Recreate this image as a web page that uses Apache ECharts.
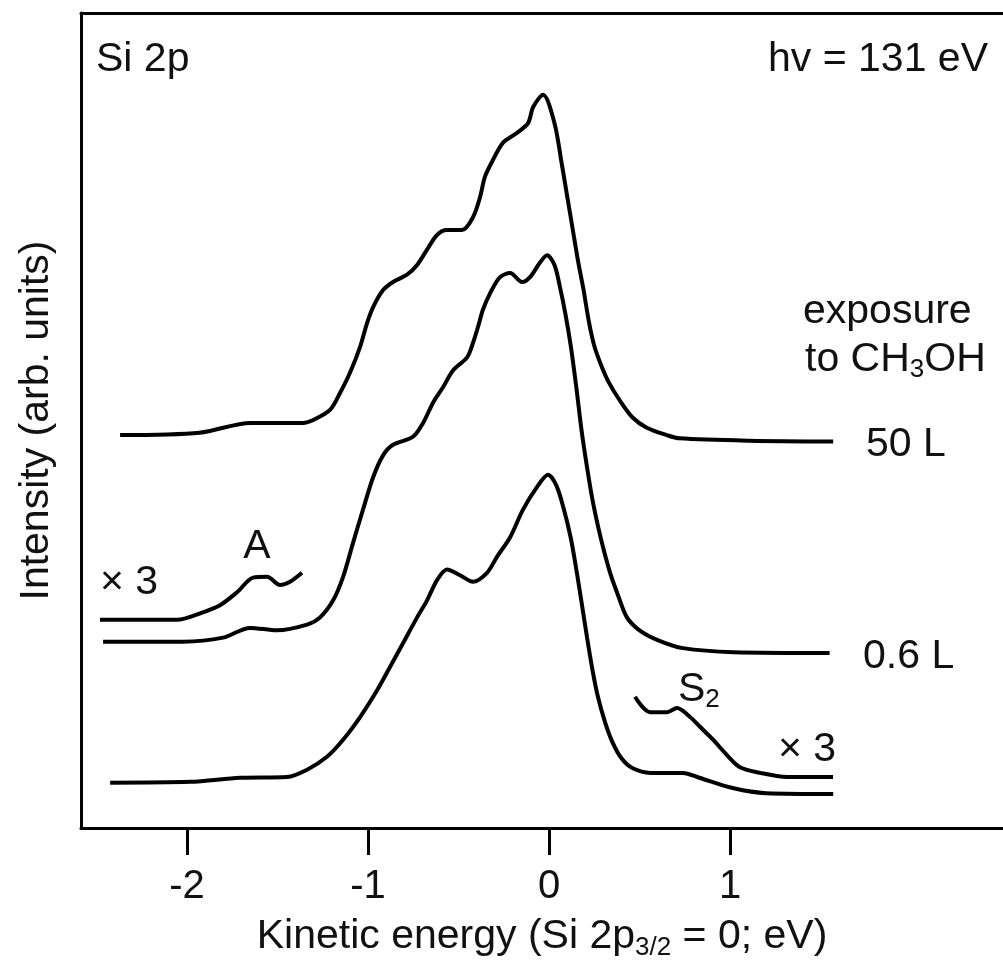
<!DOCTYPE html>
<html>
<head>
<meta charset="utf-8">
<title>Si 2p spectra</title>
<script src="https://cdn.jsdelivr.net/npm/echarts@6/dist/echarts.min.js"></script>
<style>
  html, body { margin: 0; padding: 0; background: #fff; }
  #chart { width: 1003px; height: 961px; }
</style>
</head>
<body>
<div id="chart"></div>
<script>
// --- veriler: kinetik enerji (eV) ve yoğunluk (keyfi birim, kaydırılmış) ---
const xTicks = [-2, -1, 0, 1];

// 50 L
const e50 = [-2.37, -1.93, -1.65, -1.36, -1.30, -1.21, -1.155, -1.10, -1.044, -1.006, -0.972, -0.917, -0.862, -0.785, -0.729, -0.674, -0.619, -0.564, -0.481, -0.420, -0.381, -0.354, -0.309, -0.254, -0.177, -0.116, -0.088, -0.033, 0.03, 0.07, 0.10, 0.13, 0.16, 0.19, 0.22, 0.25, 0.29, 0.33, 0.39, 0.46, 0.54, 0.65, 0.72, 1.11, 1.57];
const i50 = [48.5, 48.8, 50.0, 50.0, 50.4, 51.6, 53.7, 56.2, 59.4, 62.3, 64.3, 66.4, 67.4, 68.3, 69.5, 71.4, 73.2, 73.8, 73.8, 75.4, 77.9, 80.4, 82.5, 84.6, 85.8, 87.0, 89.0, 90.5, 87.0, 82.0, 78.0, 74.0, 70.0, 66.5, 62.5, 59.5, 57.0, 55.0, 52.8, 50.7, 49.4, 48.5, 48.1, 47.8, 47.7];

// 0.6 L
const e06 = [-2.464, -2.022, -1.801, -1.652, -1.503, -1.337, -1.265, -1.193, -1.138, -1.083, -1.028, -0.972, -0.917, -0.862, -0.751, -0.696, -0.641, -0.586, -0.530, -0.453, -0.420, -0.392, -0.365, -0.326, -0.271, -0.215, -0.149, -0.105, -0.050, -0.011, 0.03, 0.06, 0.09, 0.12, 0.15, 0.18, 0.21, 0.24, 0.27, 0.30, 0.34, 0.38, 0.43, 0.50, 0.60, 0.74, 1.02, 1.55];
const i06 = [23.0, 23.0, 23.5, 24.7, 24.4, 25.1, 26.0, 28.1, 31.0, 35.2, 39.3, 43.3, 46.0, 47.3, 48.3, 50.0, 52.5, 54.4, 56.5, 58.1, 59.9, 61.9, 64.0, 66.0, 68.0, 68.5, 67.4, 68.0, 69.8, 70.7, 69.5, 66.8, 63.5, 59.5, 54.5, 49.0, 44.5, 40.5, 37.3, 34.5, 31.3, 28.8, 26.0, 24.4, 23.2, 22.2, 21.7, 21.6];

// 0.6 L, x3 (A bölgesi)
const eA = [-2.481, -2.055, -1.928, -1.818, -1.724, -1.635, -1.558, -1.486, -1.431, -1.365];
const iA = [25.7, 25.7, 26.5, 27.5, 29.1, 30.9, 31.0, 30.0, 30.4, 31.5];

// temiz yüzey
const e0 = [-2.425, -1.983, -1.707, -1.448, -1.337, -1.227, -1.138, -1.044, -0.950, -0.878, -0.807, -0.729, -0.674, -0.619, -0.564, -0.492, -0.420, -0.343, -0.287, -0.215, -0.144, -0.066, -0.006, 0.04, 0.08, 0.12, 0.15, 0.18, 0.21, 0.24, 0.27, 0.31, 0.35, 0.40, 0.46, 0.56, 0.74, 0.83, 1.02, 1.20, 1.57];
const i0 = [5.6, 5.7, 6.2, 6.3, 7.2, 8.8, 10.9, 13.7, 17.0, 19.9, 22.8, 26.0, 28.1, 30.6, 31.9, 31.2, 30.4, 31.5, 33.5, 35.9, 39.3, 42.1, 43.6, 42.3, 39.5, 35.8, 32.0, 27.8, 23.5, 19.5, 16.2, 13.0, 10.6, 8.6, 7.4, 6.8, 6.8, 6.2, 4.9, 4.3, 4.2];

// temiz yüzey, x3 (S2 bölgesi)
const eS2 = [0.475, 0.558, 0.652, 0.707, 0.779, 0.834, 0.906, 0.983, 1.055, 1.166, 1.315, 1.569];
const iS2 = [16.2, 14.3, 14.3, 14.8, 13.7, 12.5, 10.9, 9.0, 7.5, 6.8, 6.3, 6.3];

const zip = (xs, ys) => xs.map((x, k) => [x, ys[k]]);

document.addEventListener("DOMContentLoaded", function () {
    const chart = echarts.init(document.getElementById("chart"));
    const font = "'Liberation Sans', Arial, Helvetica, sans-serif";
    const ink = "#111";
    const xMin = -2.586, xMax = 2.508;

    const curve = (name, data) => ({
        name: name,
        type: "line",
        data: data,
        showSymbol: false,
        smooth: 0.3,
        lineStyle: { color: "#000", width: 4 },
        silent: true
    });

    const txt = (text, x, y, align, size, rich) => ({
        type: "text",
        x: x,
        y: y,
        style: {
            text: text,
            fill: ink,
            font: (size || 41) + "px " + font,
            align: align || "left",
            verticalAlign: "middle",
            rich: rich
        }
    });
    const subRich = { s: { fontSize: 26, fontFamily: font, fill: ink, padding: [20, 0, 0, 0] } };

    const option = {
        backgroundColor: "#fff",
        animation: false,
        grid: { left: 81, top: 13, right: 0, bottom: 133, outerBoundsMode: "none", containLabel: false },
        xAxis: [{
            type: "value",
            min: xMin,
            max: xMax,
            axisLine: { show: true, onZero: false, lineStyle: { color: "#000", width: 3 } },
            axisTick: { show: true, inside: false, length: 27, lineStyle: { color: "#000", width: 3 }, customValues: xTicks },
            axisLabel: {
                color: ink, fontSize: 40, fontFamily: font, margin: 39, customValues: xTicks,
                formatter: v => String(v)
            },
            splitLine: { show: false },
            name: "Kinetic energy (Si 2p{s|3/2} = 0; eV)",
            nameLocation: "middle",
            nameGap: 85,
            nameTextStyle: {
                color: ink, fontSize: 41, fontFamily: font,
                rich: { s: { fontSize: 26, fontFamily: font, color: ink, padding: [22, 0, 0, 0] } }
            }
        }, {
            // üst çerçeve çizgisi
            type: "value",
            position: "top",
            min: xMin,
            max: xMax,
            axisLine: { show: true, onZero: false, lineStyle: { color: "#000", width: 3 } },
            axisTick: { show: false },
            axisLabel: { show: false },
            splitLine: { show: false }
        }],
        yAxis: {
            type: "value",
            min: 0,
            max: 100.6,
            axisLine: { show: true, onZero: false, lineStyle: { color: "#000", width: 3 } },
            axisTick: { show: false },
            axisLabel: { show: false },
            splitLine: { show: false },
            name: "Intensity (arb. units)",
            nameLocation: "middle",
            nameRotate: 90,
            nameGap: 24,
            nameTextStyle: { color: ink, fontSize: 41, fontFamily: font }
        },
        series: [
            curve("50 L", zip(e50, i50)),
            curve("0.6 L", zip(e06, i06)),
            curve("0.6 L x3", zip(eA, iA)),
            curve("clean", zip(e0, i0)),
            curve("clean x3", zip(eS2, iS2))
        ],
        graphic: [
            txt("Si 2p", 96, 60),
            txt("hv = 131 eV", 988, 60, "right"),
            txt("exposure", 803, 312),
            txt("to CH{s|3}OH", 805, 360, "left", 41, subRich),
            txt("50 L", 866, 445),
            txt("0.6 L", 863, 657),
            txt("\u00d7 3", 100, 583),
            txt("A", 257, 547, "center"),
            txt("S{s|2}", 678, 690, "left", 41, subRich),
            txt("\u00d7 3", 778, 750)
        ]
    };
    chart.setOption(option);
});
</script>
</body>
</html>
